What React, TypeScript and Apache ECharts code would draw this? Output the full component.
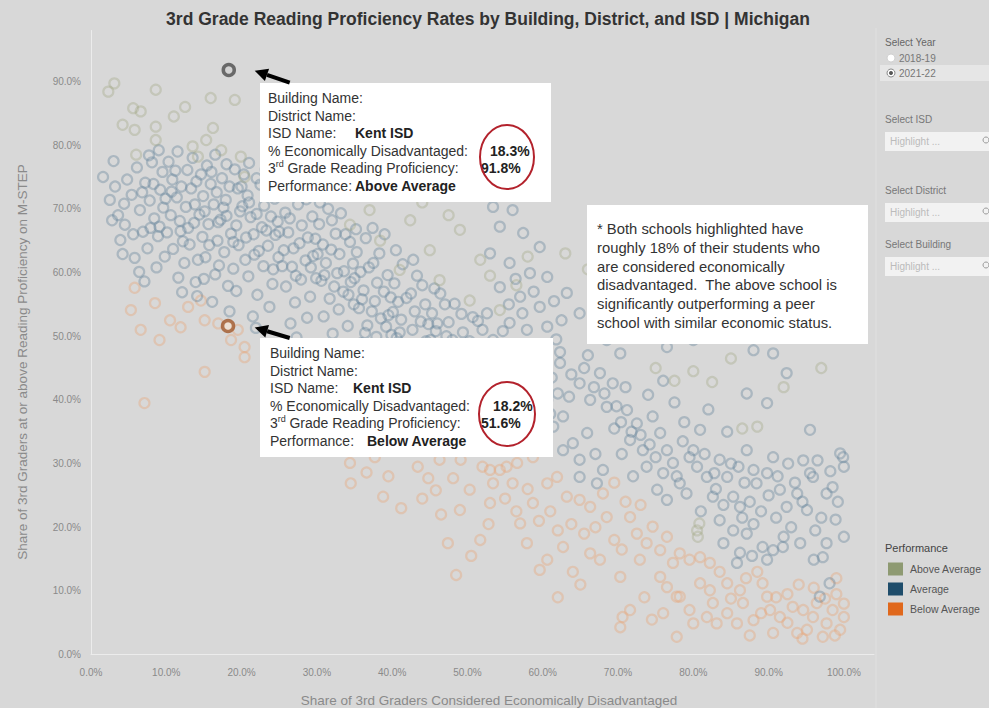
import { useEffect, useRef } from "react";
import * as echarts from "echarts";

const TITLE = "3rd Grade Reading Proficiency Rates by Building, District, and ISD | Michigan";
const X_NAME = "Share of 3rd Graders Considered Economically Disadvantaged";
const Y_NAME = "Share of 3rd Graders at or above Reading Proficiency on M-STEP";
const YEARS = ["2018-19", "2021-22"];
const FILTERS = ["Select ISD", "Select District", "Select Building"];
const LEGEND_NAMES = ["Above Average", "Average", "Below Average"];
const LEGEND_COLORS = ["#8e9a72", "#1f4d6b", "#e0681c"];

// [% economically disadvantaged, % proficient]
const aboveAverage: number[][] = [
  [3.1, 89.7], [2.3, 88.4], [8.6, 88.7], [5.6, 85.8], [6.6, 85.3], [4.2, 83.2], [5.8, 82.4], [8.6, 82.9],
  [8.6, 80.8], [15.9, 87.4], [19.1, 87.1], [16.2, 82.7], [15.3, 80.8], [13.5, 79.8], [14.2, 78.2], [17.3, 79.2],
  [19.9, 78.2], [20.4, 75.0], [11.0, 84.5], [12.5, 86.0], [6.0, 78.5],
  [34.4, 67.5], [38.4, 65.0], [42.4, 68.2], [45.0, 63.5], [49.0, 66.7], [51.7, 62.0], [41.0, 60.4], [46.3, 58.8],
  [37.0, 69.8], [50.3, 55.6], [54.3, 54.1], [44.0, 71.0], [47.5, 69.0], [40.0, 72.5], [36.0, 73.0], [53.0, 59.5],
  [56.5, 58.0], [58.0, 62.5],
  [75.0, 45.0], [77.5, 43.0], [80.0, 44.5], [82.5, 42.8], [86.5, 35.5], [88.5, 35.8], [97.0, 45.0], [80.6, 18.5],
  [80.8, 20.6], [80.5, 19.5], [63.0, 63.0], [66.0, 60.5], [69.0, 56.0], [73.0, 54.0], [85.0, 46.5], [92.0, 42.0],
];

const average: number[][] = [
  [1.6, 75], [2.5, 71.4], [3.6, 69], [4.5, 67.5], [3.9, 65.1], [5.4, 72.2], [4.2, 62.9], [2.8, 68.2], [4.8, 74.6], [3.2, 73.5],
  [5.8, 62.3], [6.5, 69.8], [6.1, 76.5], [7.2, 74.1], [7.8, 71.3], [8.4, 68.5], [6.9, 66.4], [7.5, 63.8], [8.9, 65.7], [9.2, 73.0],
  [9.6, 70.2], [8.1, 77.3], [9.8, 62.5], [6.4, 60.1], [8.7, 60.8], [9.5, 75.8], [5.6, 66.0], [7.1, 58.6], [9.1, 67.2], [7.7, 78.4],
  [10.3, 77.4], [10.8, 74.6], [11.4, 71.8], [10.6, 69.0], [11.9, 66.5], [10.9, 63.7], [12.4, 61.5], [11.6, 59.2], [12.8, 76.1], [13.3, 73.2],
  [12.6, 70.3], [13.7, 67.8], [13.1, 64.4], [14.2, 62.0], [14.6, 75.4], [14.9, 72.0], [14.4, 69.1], [13.9, 58.5], [12.1, 56.9], [14.8, 65.6],
  [11.2, 76.0], [10.1, 66.3], [13.5, 78.0], [12.0, 73.5], [14.1, 56.3],
  [15.4, 76.8], [15.9, 73.9], [16.3, 70.7], [15.6, 67.6], [16.8, 65.0], [15.2, 62.4], [16.5, 59.7], [17.4, 74.8], [17.9, 71.4], [17.2, 68.3],
  [18.6, 66.1], [17.7, 63.2], [18.9, 60.6], [18.2, 57.9], [19.5, 73.2], [19.8, 69.6], [19.1, 76.2], [16.1, 55.4], [19.6, 64.3], [17.0, 61.1],
  [18.4, 53.9], [15.0, 59.0], [19.3, 57.1], [16.7, 72.6], [18.0, 68.9],
  [20.3, 75.4], [20.8, 72.1], [21.2, 68.7], [20.6, 65.5], [21.7, 62.8], [20.9, 59.4], [22.1, 56.5], [22.5, 73.8], [23.0, 70.5], [22.7, 67.1],
  [23.5, 64.2], [22.9, 61.0], [24.1, 58.2], [23.7, 54.6], [24.4, 71.6], [24.8, 68.0], [24.5, 65.9], [21.5, 53.1], [20.1, 70.4], [23.2, 76.2],
  [24.9, 62.4], [21.9, 51.3], [20.5, 62.0],
  [25.3, 72.8], [25.8, 69.4], [26.2, 66.3], [25.6, 63.5], [26.7, 60.9], [25.9, 57.8], [27.1, 55.3], [27.5, 70.7], [28.0, 67.4], [27.7, 64.6],
  [28.5, 61.9], [27.9, 58.9], [29.1, 56.2], [28.7, 52.9], [29.4, 68.8], [29.8, 65.3], [29.5, 62.6], [26.5, 52.0], [28.2, 74.0], [29.9, 59.1],
  [26.0, 75.6], [27.3, 49.8],
  [30.3, 67.6], [30.8, 64.4], [31.2, 61.5], [30.6, 58.7], [31.7, 55.9], [30.9, 53.1], [32.1, 50.4], [32.5, 66.1], [33.0, 62.9], [32.7, 59.9],
  [33.5, 57.0], [32.9, 54.2], [34.1, 51.6], [33.7, 48.3], [34.4, 64.8], [34.8, 61.4], [34.5, 58.5], [31.5, 70.0], [34.9, 55.0], [30.5, 47.5],
  [33.2, 69.3],
  [35.3, 63.2], [35.8, 60.1], [36.2, 57.2], [35.6, 54.4], [36.7, 51.7], [35.9, 48.9], [37.1, 46.3], [37.5, 61.5], [38.0, 58.4], [37.7, 55.5],
  [38.5, 52.8], [37.9, 49.9], [39.1, 47.4], [38.7, 44.6], [39.4, 59.6], [39.8, 56.1], [39.5, 53.3], [36.5, 65.4], [39.9, 50.2], [38.3, 63.0],
  [40.3, 58.3], [40.8, 55.4], [41.2, 52.6], [40.6, 49.7], [41.7, 47.0], [40.9, 44.3], [42.1, 41.8], [42.5, 56.7], [43.0, 53.9], [42.7, 51.0],
  [43.5, 48.3], [42.9, 45.4], [44.1, 42.9], [43.7, 40.2], [44.4, 55.0], [44.8, 51.9], [44.5, 49.2], [41.4, 61.3], [44.9, 46.2], [43.3, 59.5],
  [45.3, 53.6], [45.8, 50.8], [46.2, 48.0], [45.6, 45.2], [46.7, 42.6], [45.9, 40.0], [47.1, 37.6], [47.5, 52.2], [48.0, 49.4], [47.7, 46.6],
  [48.5, 43.9], [47.9, 41.2], [49.1, 38.7], [48.7, 36.0], [49.4, 50.6], [49.8, 47.6], [49.5, 44.9], [46.4, 56.7], [49.9, 42.0], [48.3, 55.1],
  [50.3, 49.2], [50.8, 46.5], [51.2, 43.8], [50.6, 41.0], [51.7, 38.5], [50.9, 35.9], [52.1, 33.6], [52.5, 47.8], [53.0, 45.1], [52.7, 42.3],
  [53.5, 39.7], [52.9, 37.1], [54.1, 34.6], [53.4, 49.4], [54.4, 46.3], [54.8, 43.5], [54.5, 40.8], [51.4, 52.4], [53.0, 63.0], [53.4, 70.3],
  [54.3, 57.7], [52.6, 53.6], [54.3, 67.2],
  [56.0, 69.8], [57.4, 66.2], [59.6, 64.0], [55.6, 61.5], [58.3, 59.9], [60.6, 59.3], [57.0, 56.2], [59.6, 54.6], [55.6, 52.1], [57.9, 51.0],
  [60.6, 51.5], [56.0, 48.3], [59.2, 47.8], [55.3, 45.1], [56.8, 42.4], [58.1, 44.9], [57.5, 39.8], [59.0, 41.6], [56.2, 37.0], [60.6, 40.0],
  [61.4, 35.8], [58.6, 35.4], [55.8, 34.3], [61.2, 43.5], [62.3, 47.5],
  [62.3, 45.8], [64.9, 42.6], [67.6, 44.2], [69.3, 42.6], [66.3, 40.0], [68.5, 38.9], [62.7, 37.4], [64.0, 33.2], [65.9, 34.8], [64.9, 27.9],
  [67.2, 26.9], [68.0, 29.0], [62.7, 32.1], [64.9, 30.6], [64.9, 53.6], [63.2, 56.8], [68.5, 49.4], [66.0, 47.0], [63.5, 40.5], [69.5, 35.5],
  [67.0, 31.5],
  [71.2, 38.4], [72.5, 36.3], [71.6, 33.7], [73.3, 32.1], [74.6, 37.4], [75.6, 34.8], [76.5, 32.1], [77.3, 30.1], [73.8, 29.5], [75.2, 25.9],
  [76.5, 24.3], [78.2, 26.9], [79.1, 25.3], [70.3, 47.3], [72.9, 50.4], [76.5, 48.3], [71.0, 42.0], [74.0, 40.8], [77.5, 39.6], [78.8, 36.5],
  [79.5, 31.0], [72.0, 28.0], [70.5, 31.5], [76.0, 43.0],
  [80.9, 35.3], [80.0, 32.1], [81.8, 27.9], [82.6, 24.8], [83.5, 30.6], [84.5, 27.9], [85.3, 24.8], [86.2, 23.2], [87.1, 32.1], [88.0, 29.0],
  [88.4, 26.9], [89.8, 28.5], [89.8, 39.5], [87.1, 41.0], [83.5, 21.1], [85.3, 19.5], [87.1, 19.0], [86.2, 16.0], [85.8, 14.4], [89.2, 16.9],
  [89.8, 14.9], [82.0, 38.5], [84.5, 35.0], [86.0, 29.5], [81.0, 22.5], [80.0, 49.4], [88.0, 47.8],
  [90.6, 31.0], [91.5, 25.9], [92.4, 23.2], [93.8, 25.3], [95.1, 22.7], [95.9, 27.9], [97.7, 25.3], [98.5, 26.3], [99.9, 31.0], [100, 29.5],
  [95.5, 28.5], [90.6, 16.4], [91.9, 16.9], [94.2, 17.5], [96.0, 14.9], [97.2, 15.3], [97.7, 17.5], [100, 18.5], [98.1, 11.2], [96.8, 9.1],
  [92.4, 44.2], [95.5, 35.3], [99.5, 31.6], [90.6, 47.3], [93.0, 20.0], [91.0, 21.5], [98.9, 21.2], [94.6, 30.5],
  [3.0, 77.5], [4.4, 70.8], [6.8, 72.6], [7.9, 67.0], [8.3, 73.9], [9.9, 71.6], [10.7, 72.7], [11.8, 68.1], [12.2, 64.9], [12.9, 67.0],
  [13.8, 70.7], [14.0, 74.3], [15.1, 69.6], [15.7, 64.3], [16.0, 75.8], [16.9, 67.9], [17.6, 70.2], [18.4, 73.5], [18.9, 64.8], [19.3, 67.4],
  [20.0, 73.5], [21.0, 71.0], [21.6, 66.0], [22.3, 63.4], [22.0, 69.2], [23.3, 66.6], [23.9, 68.8], [24.2, 60.5], [25.0, 66.4], [25.4, 61.0],
  [26.4, 68.5], [26.9, 63.8], [27.2, 59.5], [28.8, 65.5], [29.2, 60.8], [30.1, 62.9], [31.0, 59.6], [31.9, 63.6], [32.3, 57.8], [33.6, 60.2],
  [34.2, 56.5], [35.0, 59.1], [36.0, 55.8], [36.9, 60.8], [37.3, 53.9], [38.9, 57.0], [39.2, 51.5], [40.1, 53.8], [41.0, 50.6], [41.9, 56.0],
  [42.3, 48.6], [43.8, 52.3], [44.2, 47.4], [45.1, 49.4], [46.0, 52.0], [46.9, 46.3], [47.2, 50.0], [48.8, 44.9], [50.0, 45.5], [51.0, 48.0],
  [36.4, 50.5], [37.8, 47.8], [40.0, 46.0], [41.5, 43.5], [43.0, 43.0], [44.6, 44.5], [46.5, 44.0], [47.8, 39.5], [49.6, 40.2], [50.6, 37.5],
  [52.4, 40.0], [53.8, 36.0], [55.0, 38.5], [56.6, 40.5], [58.2, 38.0], [59.8, 38.8], [61.0, 37.8], [62.0, 41.0], [63.8, 44.0], [65.5, 45.0],
  [66.8, 42.0], [68.2, 41.0], [69.8, 39.0], [70.4, 36.5], [71.8, 35.0], [73.0, 34.5], [74.2, 33.0], [75.0, 31.0], [76.0, 28.5], [77.8, 28.0],
  [78.6, 33.5], [80.5, 29.5], [81.5, 31.5], [82.8, 28.5], [83.0, 26.0], [84.0, 23.5], [85.0, 30.0], [86.8, 27.0], [87.5, 24.0], [89.0, 22.5],
  [90.0, 25.0], [91.2, 28.0], [92.6, 30.0], [93.5, 27.0], [94.5, 24.0], [96.5, 30.5], [97.0, 21.5], [98.2, 28.8], [99.2, 24.0], [96.2, 19.5],
  [92.0, 18.5], [88.0, 20.5], [86.5, 21.5], [84.0, 17.5], [87.8, 15.5],
  [55.5, 55.0], [58.8, 57.0], [61.5, 55.5], [62.5, 52.5], [61.8, 49.5], [57.3, 53.6], [56.4, 59.0], [54.7, 50.8], [52.0, 51.0], [50.7, 53.0],
  [49.2, 53.5], [47.0, 55.0], [45.6, 57.5], [44.0, 58.0], [42.8, 62.0], [40.5, 63.5], [39.0, 66.0], [37.4, 67.0], [35.2, 66.8], [33.8, 66.0],
  [32.0, 68.2], [30.4, 71.0], [28.6, 71.5], [27.0, 73.0], [25.0, 74.5], [22.0, 74.8], [21.0, 77.2], [18.0, 77.0], [16.5, 78.5], [11.5, 79.0],
  [9.0, 79.2],
];

const belowAverage: number[][] = [
  [5.8, 57.6], [5.3, 54.1], [8.5, 55.2], [10.5, 52.5], [6.6, 51.0], [9.1, 49.4], [12.9, 54.6], [14.6, 55.6], [15.1, 52.5], [16.9, 52.0],
  [18.6, 49.4], [19.5, 51.0], [20.4, 48.3], [11.9, 51.4], [7.1, 39.5], [15.1, 44.4], [20.4, 46.7],
  [34.4, 30.1], [34.5, 26.9], [43.4, 29.5], [44.8, 27.7], [48.1, 27.7], [41.2, 23.0], [47.4, 17.5], [49.1, 30.6], [37.7, 31.0], [34.4, 34.2],
  [40.4, 32.9], [44.4, 35.3], [46.3, 30.6], [50.3, 25.9], [49.0, 22.7], [51.7, 18.0], [53.9, 42.3], [55.6, 40.8], [57.6, 38.4], [59.6, 36.8],
  [54.3, 36.8], [36.0, 37.5], [38.5, 35.0], [42.0, 38.0], [46.0, 33.5], [51.0, 33.0], [48.5, 37.2], [52.0, 29.5],
  [53.0, 23.8], [57.0, 20.6], [57.9, 17.5], [56.0, 26.9], [53.0, 29.0], [55.2, 29.5], [58.7, 23.8], [60.6, 26.9], [61.9, 27.9], [63.2, 24.8],
  [64.9, 24.3], [66.3, 23.2], [68.0, 25.3], [68.5, 21.6], [62.7, 16.9], [60.6, 14.9], [59.6, 13.3], [66.3, 15.9], [67.6, 14.9], [70.3, 12.2],
  [71.6, 21.6], [72.5, 19.0], [73.8, 17.5], [74.6, 20.1], [75.6, 16.4], [76.5, 18.5], [77.3, 14.4], [78.2, 15.9], [79.5, 14.9], [80.9, 15.3],
  [82.2, 14.4], [72.9, 14.9], [70.6, 5.9], [71.6, 7.0], [70.3, 4.3], [77.8, 2.8], [78.2, 9.1], [80.9, 11.2], [82.2, 10.1], [81.8, 5.9],
  [83.1, 4.9], [84.5, 6.5], [85.8, 4.9], [86.6, 8.1], [88.0, 5.4], [89.2, 11.2], [89.8, 9.1], [90.2, 7.0], [90.6, 3.4], [91.5, 5.9],
  [94.6, 7.0], [95.1, 3.9], [95.9, 5.9], [96.4, 8.1], [97.7, 4.9], [98.5, 7.0], [99.5, 3.9], [100, 5.9], [97.2, 2.8], [93.8, 3.4],
  [84.5, 11.2], [86.2, 10.1], [76.5, 10.6], [75.6, 12.2], [77.8, 9.1], [79.5, 7.0], [80.0, 4.9], [82.6, 8.1], [54.3, 29.0], [56.6, 30.1],
  [58.7, 31.0], [53.4, 26.9], [92.5, 9.5], [94.0, 11.0], [99.0, 9.5], [88.5, 13.0],
  [55.0, 24.5], [56.5, 22.5], [58.0, 26.0], [59.5, 21.0], [61.0, 22.5], [62.0, 19.5], [63.8, 20.5], [65.5, 19.0], [67.0, 20.0], [69.5, 18.0],
  [70.5, 16.5], [71.0, 24.0], [69.5, 27.0], [73.0, 23.5], [64.0, 13.0], [65.0, 11.0], [62.0, 9.0], [73.5, 9.0], [74.5, 5.5], [76.0, 6.5],
  [83.5, 13.0], [85.0, 8.8], [87.0, 12.0], [87.5, 3.0], [89.0, 6.5], [91.0, 9.0], [92.5, 5.0], [93.2, 7.5], [94.5, 2.5], [96.0, 10.5],
  [97.5, 8.8], [98.8, 3.0], [100, 8.0], [99.0, 12.0], [44.0, 24.5], [46.5, 22.0], [45.8, 25.8], [39.5, 28.0], [42.5, 33.0], [36.6, 28.6],
  [38.8, 24.8], [52.8, 20.5], [50.5, 15.5], [48.5, 12.5],
];

const highlightedAbove: number[][] = [[18.3, 91.8]];
const highlightedBelow: number[][] = [[18.2, 51.6]];

const FONT = '"Liberation Sans", Arial, sans-serif';

function txt(x: number, y: number, text: string, size: number, fill: string, weight = "normal", align = "left", extra: any = {}) {
  return {
    type: "text", x, y, z: 20, silent: true,
    style: { text, fill, fontSize: size, fontWeight: weight, fontFamily: FONT, align, verticalAlign: "middle", ...extra },
  };
}

function tooltipBox(left: number, top: number, w: number, tx: number, lines: number[], vals: { isd: string; econ: string; prof: string; perf: string; isdX: number; econX: number; profX: number; perfX: number }) {
  const c = "#333333";
  const s = 14;
  return [
    { type: "rect", z: 15, silent: true, shape: { x: left, y: top, width: w, height: 119 }, style: { fill: "#ffffff" } },
    txt(tx, lines[0], "Building Name:", s, c),
    txt(tx, lines[1], "District Name:", s, c),
    txt(tx, lines[2], "ISD Name:", s, c),
    txt(vals.isdX, lines[2], vals.isd, s, "#222", "bold"),
    txt(tx, lines[3], "% Economically Disadvantaged:", s, c),
    txt(vals.econX, lines[3], vals.econ, s, "#222", "bold"),
    txt(tx, lines[4], "3", s, c),
    txt(tx + 7.8, lines[4] - 4, "rd", 9, c),
    txt(tx + 15.5, lines[4], " Grade Reading Proficiency:", s, c),
    txt(vals.profX, lines[4], vals.prof, s, "#222", "bold"),
    txt(tx, lines[5], "Performance:", s, c),
    txt(vals.perfX, lines[5], vals.perf, s, "#222", "bold"),
  ];
}

function arrow(tip: number[], tail: number[]) {
  const dx = tail[0] - tip[0];
  const dy = tail[1] - tip[1];
  const len = Math.sqrt(dx * dx + dy * dy);
  const ux = dx / len;
  const uy = dy / len;
  const hl = 13;
  const hw = 6.5;
  const bx = tip[0] + ux * hl;
  const by = tip[1] + uy * hl;
  return [
    { type: "line", z: 16, silent: true, shape: { x1: tail[0], y1: tail[1], x2: bx, y2: by }, style: { stroke: "#000", lineWidth: 4 } },
    {
      type: "polygon", z: 16, silent: true,
      shape: { points: [[tip[0], tip[1]], [bx - uy * hw, by + ux * hw], [bx + uy * hw, by - ux * hw]] },
      style: { fill: "#000" },
    },
  ];
}

const NOTE_LINES = [
  "* Both schools highlighted have",
  "roughly 18% of their students who",
  "are considered economically",
  "disadvantaged.  The above school is",
  "significantly outperforming a peer",
  "school with similar economic status.",
];

function buildOption() {
  const ring = (name: string, data: number[][], stroke: string, opacity: number) => ({
    type: "scatter", name, data, symbol: "circle", symbolSize: 10, silent: true, clip: false, z: 2,
    itemStyle: { color: "rgba(0,0,0,0)", borderColor: stroke, borderWidth: 2.2, opacity },
  });

  const graphic: any[] = [];
  graphic.push(txt(488, 19, TITLE, 17.5, "#333333", "bold", "center"));
  graphic.push(txt(489, 700, X_NAME, 13.5, "#8a8a8a", "normal", "center"));
  graphic.push({
    type: "text", x: 22, y: 362, rotation: Math.PI / 2, z: 20, silent: true,
    style: { text: Y_NAME, fill: "#8a8a8a", fontSize: 13.5, fontFamily: FONT, align: "center", verticalAlign: "middle" },
  });
  // right panel
  graphic.push({ type: "line", z: 1, silent: true, shape: { x1: 876, y1: 28, x2: 876, y2: 708 }, style: { stroke: "#e0e0e0", lineWidth: 1 } });
  graphic.push(txt(885, 42, "Select Year", 10, "#666"));
  graphic.push({ type: "rect", z: 1, silent: true, shape: { x: 880, y: 65, width: 109, height: 16 }, style: { fill: "#e6e6e6" } });
  graphic.push({ type: "circle", z: 20, silent: true, shape: { cx: 891, cy: 58, r: 4 }, style: { fill: "#ffffff", stroke: "#d0d0d0", lineWidth: 1 } });
  graphic.push({ type: "circle", z: 20, silent: true, shape: { cx: 891, cy: 73, r: 4 }, style: { fill: "#ffffff", stroke: "#8a8a8a", lineWidth: 1 } });
  graphic.push({ type: "circle", z: 21, silent: true, shape: { cx: 891, cy: 73, r: 2 }, style: { fill: "#555" } });
  graphic.push(txt(899, 58, YEARS[0], 10, "#777"));
  graphic.push(txt(899, 73, YEARS[1], 10, "#777"));
  const filterY = [119, 190, 244];
  FILTERS.forEach((f, i) => {
    const y = filterY[i];
    graphic.push(txt(885, y, f, 10, "#777"));
    graphic.push({ type: "rect", z: 1, silent: true, shape: { x: 885, y: y + 13, width: 104, height: 19 }, style: { fill: "#f2f2f2" } });
    graphic.push(txt(890, y + 22.5, "Highlight ...", 10, "#bbbbbb"));
    graphic.push({ type: "circle", z: 20, silent: true, shape: { cx: 986, cy: y + 21, r: 3 }, style: { fill: "none", stroke: "#999", lineWidth: 1 } });
  });
  graphic.push(txt(885, 548, "Performance", 11, "#444"));
  LEGEND_NAMES.forEach((n, i) => {
    const cy = 569 + i * 20;
    graphic.push({ type: "rect", z: 20, silent: true, shape: { x: 888, y: cy - 6.5, width: 15, height: 13 }, style: { fill: LEGEND_COLORS[i] } });
    graphic.push(txt(910, cy, n, 10.5, "#555"));
  });
  // annotations
  graphic.push(...tooltipBox(260, 83, 291, 268, [98, 116, 133, 151, 168, 186], {
    isd: "Kent ISD", econ: "18.3%", prof: "91.8%", perf: "Above Average", isdX: 355, econX: 490, profX: 481, perfX: 355,
  }));
  graphic.push(...tooltipBox(260, 338, 293, 270, [353, 371, 388, 406, 423, 441], {
    isd: "Kent ISD", econ: "18.2%", prof: "51.6%", perf: "Below Average", isdX: 353, econX: 493, profX: 481, perfX: 367,
  }));
  graphic.push({ type: "ellipse", z: 22, silent: true, shape: { cx: 507, cy: 157, rx: 27, ry: 32 }, style: { fill: "none", stroke: "#b3222c", lineWidth: 2 } });
  graphic.push({ type: "ellipse", z: 22, silent: true, shape: { cx: 507, cy: 414, rx: 28, ry: 32 }, style: { fill: "none", stroke: "#b3222c", lineWidth: 2 } });
  graphic.push(...arrow([254.7, 70.7], [289.7, 82.7]));
  graphic.push(...arrow([254.7, 327.5], [289.7, 338]));
  graphic.push({ type: "rect", z: 15, silent: true, shape: { x: 587, y: 205, width: 281, height: 139 }, style: { fill: "#ffffff" } });
  NOTE_LINES.forEach((l, i) => graphic.push(txt(597, 229 + i * 18.8, l, 14.8, "#333")));

  const labelFmt = (v: number) => (Math.abs(v % 10) < 1e-6 ? v.toFixed(1) + "%" : "");

  return {
    animation: false,
    backgroundColor: "#d8d8d8",
    grid: { left: 91, right: 115, top: 30.5, bottom: 53.4 },
    xAxis: {
      type: "value", min: 0, max: 104, interval: 10,
      axisLine: { show: true, lineStyle: { color: "#ececec", width: 1 } },
      axisTick: { show: false }, splitLine: { show: false },
      axisLabel: { formatter: labelFmt, color: "#8a8a8a", fontSize: 10, fontFamily: FONT, margin: 13, showMaxLabel: false },
    },
    yAxis: {
      type: "value", min: 0, max: 98, interval: 10,
      axisLine: { show: true, lineStyle: { color: "#ececec", width: 1 } },
      axisTick: { show: false }, splitLine: { show: false },
      axisLabel: { formatter: labelFmt, color: "#8a8a8a", fontSize: 10, fontFamily: FONT, margin: 10, showMaxLabel: false },
    },
    series: [
      ring("Below Average", belowAverage, "#e8a070", 0.36),
      ring("Average", average, "#5c7d95", 0.36),
      ring("Above Average", aboveAverage, "#9aa07a", 0.33),
      {
        type: "scatter", name: "Highlighted Above", data: highlightedAbove, symbol: "circle", symbolSize: 11, silent: true, z: 5,
        itemStyle: { color: "#d2d2d2", borderColor: "#4e4e4e", borderWidth: 3.5 },
      },
      {
        type: "scatter", name: "Highlighted Below", data: highlightedBelow, symbol: "circle", symbolSize: 11, silent: true, z: 5,
        itemStyle: { color: "#f2e2d2", borderColor: "#a0582a", borderWidth: 3.5 },
      },
    ],
    graphic,
  };
}

export default function App() {
  const ref = useRef<HTMLDivElement>(null);
  useEffect(() => {
    if (!ref.current) return;
    const chart = echarts.init(ref.current, null, { renderer: "svg" });
    chart.setOption(buildOption() as any);
    return () => chart.dispose();
  }, []);
  return (
    <div
      ref={ref}
      style={{ position: "fixed", left: 0, top: 0, width: 989, height: 708, background: "#d8d8d8" }}
    />
  );
}
